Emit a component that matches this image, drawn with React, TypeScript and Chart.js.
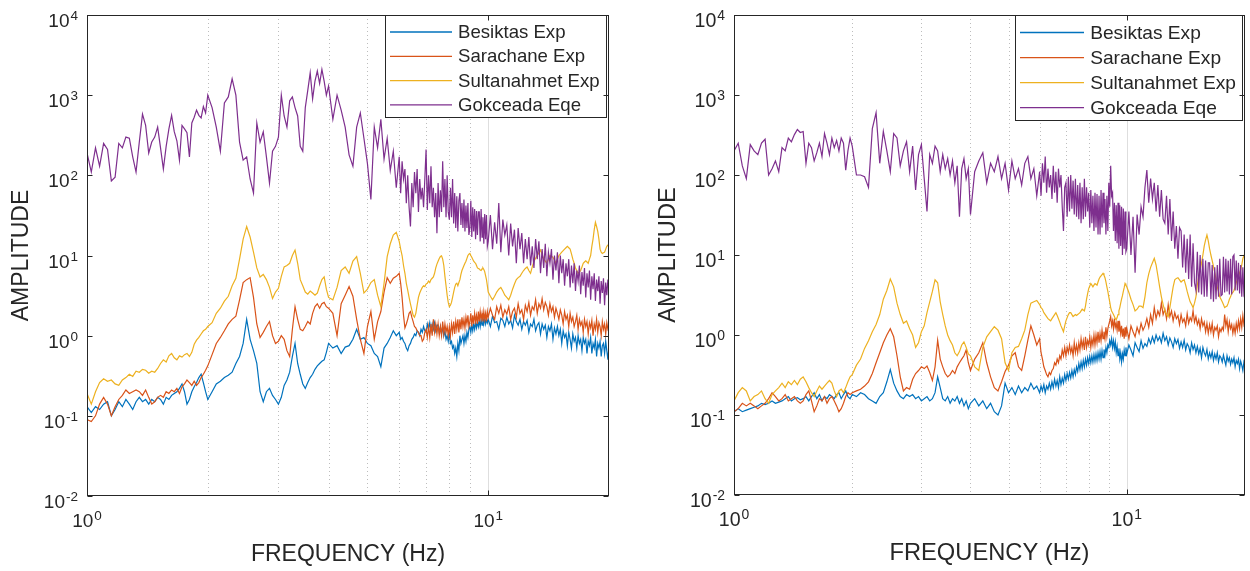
import React, { useEffect, useRef } from 'react';
import { Chart, registerables } from 'chart.js';

Chart.register(...registerables);

// ---------- data ----------
const FREQ_HZ = [
  1, 1.025, 1.05, 1.075, 1.1, 1.125, 1.15, 1.175, 1.2, 1.225,
  1.25, 1.275, 1.3, 1.325, 1.35, 1.375, 1.4, 1.425, 1.45, 1.475,
  1.5, 1.525, 1.55, 1.575, 1.6, 1.625, 1.65, 1.675, 1.7, 1.725,
  1.75, 1.775, 1.8, 1.825, 1.85, 1.875, 1.9, 1.925, 1.95, 1.975,
  2, 2.05, 2.1, 2.15, 2.2, 2.25, 2.3, 2.35, 2.4, 2.45,
  2.5, 2.55, 2.6, 2.65, 2.7, 2.75, 2.8, 2.85, 2.9, 2.95,
  3, 3.05, 3.1, 3.15, 3.2, 3.25, 3.3, 3.35, 3.4, 3.45,
  3.5, 3.55, 3.6, 3.65, 3.7, 3.75, 3.8, 3.85, 3.9, 3.95,
  4, 4.1, 4.2, 4.3, 4.4, 4.5, 4.6, 4.7, 4.8, 4.9,
  5, 5.1, 5.2, 5.3, 5.4, 5.5, 5.6, 5.7, 5.8, 5.9,
  6, 6.05, 6.1, 6.15, 6.2, 6.25, 6.3, 6.35, 6.4, 6.45,
  6.5, 6.55, 6.6, 6.65, 6.7, 6.75, 6.8, 6.85, 6.9, 6.95,
  7, 7.05, 7.1, 7.15, 7.2, 7.25, 7.3, 7.35, 7.4, 7.45,
  7.5, 7.55, 7.6, 7.65, 7.7, 7.75, 7.8, 7.85, 7.9, 7.95,
  8, 8.05, 8.1, 8.15, 8.2, 8.25, 8.3, 8.35, 8.4, 8.45,
  8.5, 8.55, 8.6, 8.65, 8.7, 8.75, 8.8, 8.85, 8.9, 8.95,
  9, 9.05, 9.1, 9.15, 9.2, 9.25, 9.3, 9.35, 9.4, 9.45,
  9.5, 9.55, 9.6, 9.65, 9.7, 9.75, 9.8, 9.85, 9.9, 9.95,
  10, 10.125, 10.25, 10.375, 10.5, 10.625, 10.75, 10.875, 11, 11.125,
  11.25, 11.375, 11.5, 11.625, 11.75, 11.875, 12, 12.125, 12.25, 12.375,
  12.5, 12.625, 12.75, 12.875, 13, 13.125, 13.25, 13.375, 13.5, 13.625,
  13.75, 13.875, 14, 14.125, 14.25, 14.375, 14.5, 14.625, 14.75, 14.875,
  15, 15.125, 15.25, 15.375, 15.5, 15.625, 15.75, 15.875, 16, 16.125,
  16.25, 16.375, 16.5, 16.625, 16.75, 16.875, 17, 17.125, 17.25, 17.375,
  17.5, 17.625, 17.75, 17.875, 18, 18.125, 18.25, 18.375, 18.5, 18.625,
  18.75, 18.875, 19, 19.125, 19.25, 19.375, 19.5, 19.625, 19.75, 19.875,
  20,
];

// Left panel
const LEFT_BESIKTAS = [
  0.13, 0.11, 0.13, 0.12, 0.14, 0.15, 0.1, 0.12, 0.15, 0.13,
  0.16, 0.14, 0.12, 0.15, 0.17, 0.15, 0.16, 0.14, 0.16, 0.15,
  0.17, 0.16, 0.14, 0.17, 0.16, 0.18, 0.19, 0.2, 0.22, 0.25,
  0.2, 0.14, 0.16, 0.2, 0.23, 0.26, 0.3, 0.33, 0.26, 0.2,
  0.16, 0.2, 0.25, 0.27, 0.3, 0.32, 0.35, 0.45, 0.55, 0.8,
  1.6, 0.9, 0.65, 0.45, 0.2, 0.15, 0.2, 0.22, 0.18, 0.16,
  0.14, 0.17, 0.24, 0.28, 0.35, 0.55, 0.8, 0.45, 0.33, 0.25,
  0.22, 0.26, 0.3, 0.33, 0.38, 0.42, 0.45, 0.48, 0.5, 0.62,
  0.8, 0.7, 0.75, 0.6, 0.72, 0.75, 0.9, 1.2, 0.9, 0.95,
  0.8, 0.75, 0.6, 0.55, 0.41, 0.7, 0.8, 0.95, 1.15, 1.0,
  1.1, 0.9, 0.95, 0.85, 0.8, 0.7, 0.65, 0.75, 0.8, 0.9,
  0.95, 1.05, 1.0, 1.15, 1.1, 1.0, 1.2, 1.1, 1.3, 1.15,
  1.1, 1.4, 1.2, 1.45, 1.15, 1.4, 1.2, 1.45, 1.15, 1.35,
  1.35, 1.1, 1.3, 1.05, 1.3, 1.0, 1.15, 0.9, 1.0, 0.85,
  1.1, 0.8, 0.85, 0.7, 0.75, 0.6, 0.7, 0.55, 0.8, 0.65,
  1.0, 0.8, 0.9, 1.0, 0.8, 1.0, 0.85, 1.1, 0.95, 1.2,
  1.3, 1.1, 1.35, 1.15, 1.4, 1.2, 1.45, 1.25, 1.5, 1.3,
  1.55, 1.3, 1.6, 1.35, 1.7, 1.4, 1.65, 1.4, 1.6, 1.45,
  1.6, 1.3, 1.75, 1.45, 1.5, 1.2, 1.65, 1.55, 1.3, 1.7,
  1.4, 1.55, 1.25, 1.8, 1.5, 1.35, 1.6, 1.2, 1.5, 1.35,
  1.55, 1.1, 1.4, 1.3, 1.6, 1.15, 1.35, 1.45, 1.05, 1.4,
  1.2, 1.35, 0.95, 1.3, 1.15, 1.4, 0.9, 1.25, 1.05, 1.3,
  1.0, 1.2, 0.8, 1.15, 0.95, 1.05, 0.75, 1.1, 0.9, 0.7,
  1.05, 0.85, 0.95, 0.7, 1.0, 0.8, 0.9, 0.65, 0.95, 0.8,
  0.9, 0.6, 0.85, 0.75, 0.95, 0.6, 0.8, 0.7, 0.9, 0.55,
  0.8, 0.7, 0.85, 0.55, 0.75, 0.8, 0.6, 0.85, 0.65, 0.5,
  0.75,
];
const LEFT_SARACHANE = [
  0.09, 0.085, 0.1, 0.14, 0.17, 0.14, 0.1, 0.13, 0.16, 0.18,
  0.21, 0.19, 0.2, 0.21, 0.2, 0.18, 0.21, 0.17, 0.14, 0.15,
  0.17, 0.18, 0.17, 0.2, 0.19, 0.21, 0.2, 0.22, 0.19, 0.23,
  0.25, 0.28, 0.26, 0.24, 0.27, 0.24, 0.26, 0.3, 0.33, 0.37,
  0.42, 0.58, 0.8, 0.95, 1.15, 1.4, 1.6, 1.75, 2.8, 4.6,
  5.0, 5.3, 3.0, 1.4, 0.95, 1.1, 1.3, 1.5, 1.0, 0.8,
  0.85, 1.0, 0.9, 0.65, 0.55, 1.2, 2.3, 1.6, 1.2, 1.15,
  1.3, 1.5, 1.4, 1.9, 2.3, 2.5, 2.2, 2.5, 2.6, 2.3,
  2.2, 1.9, 1.0, 2.5, 3.2, 4.1, 3.1, 1.6, 0.9, 0.6,
  1.3, 2.0, 0.9, 1.5, 2.0, 3.5, 5.3, 4.5, 5.2, 5.5,
  6.0, 4.5, 3.0, 1.8, 1.25, 1.4, 1.6, 1.9, 2.0, 1.7,
  1.5, 1.3, 1.25, 1.15, 1.1, 1.0, 1.0, 0.85, 0.9, 1.1,
  1.2, 0.95, 1.3, 0.95, 1.4, 1.0, 1.6, 1.1, 1.4, 1.05,
  1.4, 1.0, 1.3, 1.0, 1.5, 1.05, 1.4, 1.1, 1.3, 1.0,
  1.3, 1.0, 1.4, 1.1, 1.5, 1.05, 1.5, 1.2, 1.6, 1.1,
  1.6, 1.2, 1.7, 1.3, 1.6, 1.25, 1.7, 1.4, 1.8, 1.3,
  1.5, 1.9, 1.3, 1.8, 1.4, 1.9, 1.5, 1.8, 1.4, 2.0,
  1.5, 2.0, 1.6, 1.9, 1.5, 2.0, 1.6, 1.9, 1.5, 2.0,
  1.7, 2.2, 1.8, 1.6, 2.3, 1.9, 2.4, 1.7, 2.1, 1.85,
  2.3, 1.6, 2.0, 2.2, 1.7, 2.5, 1.9, 2.1, 1.6, 2.4,
  2.0, 2.6, 1.8, 2.3, 2.1, 2.8, 1.9, 2.5, 2.2, 2.9,
  2.1, 2.6, 2.3, 1.8, 2.5, 2.0, 2.3, 1.7, 2.2, 1.9,
  1.6, 2.1, 1.8, 1.4, 2.0, 1.6, 1.8, 1.3, 1.9, 1.5,
  1.7, 1.3, 1.5, 1.8, 1.2, 1.6, 1.35, 1.5, 1.1, 1.6,
  1.3, 1.5, 1.05, 1.45, 1.25, 1.55, 1.0, 1.4, 1.2, 1.6,
  1.1, 1.45, 1.3, 1.0, 1.5, 1.2, 1.4, 1.05, 1.45, 1.2,
  1.3,
];
const LEFT_SULTANAHMET = [
  0.19, 0.14, 0.2, 0.26, 0.29, 0.27, 0.28, 0.25, 0.24, 0.28,
  0.3, 0.33, 0.31, 0.36, 0.35, 0.38, 0.37, 0.34, 0.36, 0.35,
  0.39, 0.45, 0.5, 0.47, 0.56, 0.6, 0.53, 0.5, 0.56, 0.54,
  0.58, 0.6, 0.55, 0.62, 0.78, 0.88, 0.95, 1.05, 1.15, 1.2,
  1.3, 1.45, 1.9, 2.2, 2.7, 3.1, 4.2, 5.2, 9, 16,
  23, 17, 11, 7, 5.4, 5.8, 5, 4, 2.9, 3.5,
  3.9, 5.5, 7.2, 7.5, 8, 10, 11.7, 8, 5, 4.2,
  3.5, 3.3, 3.6, 3.4, 3.2, 3.4, 4.2, 5, 5.4, 3.8,
  3.0, 2.8, 4, 6.5, 7.2, 6, 8.5, 9.7, 6, 3.4,
  3.8, 4.6, 5, 3.2, 2.3, 4.5, 9.7, 14, 18, 19.5,
  15, 12, 10, 7.5, 6, 4.5, 3.7, 3, 2.5, 2.1,
  1.8, 1.7, 1.9, 2.4, 3.0, 3.4, 3.7, 4.0, 4.2, 4.1,
  4.4, 4.5, 4.8, 4.6, 5, 5.2, 5.4, 6, 7, 7.8,
  8.5, 9.2, 9.7, 9.9, 9, 7.5, 5.5, 4.2, 3.2, 2.6,
  2.3, 2.4, 2.6, 3.0, 3.5, 4.0, 4.4, 4.5, 4.2, 4.6,
  5, 5.8, 6.5, 7, 7.5, 8, 8.5, 9.2, 10, 10.4,
  10.6, 10, 9.5, 9, 8.5, 8.2, 8, 7.5, 7, 6.9,
  6.8, 6.6, 6.5, 6.8, 7, 6.7, 6.3, 5.6, 5, 4.2,
  3.5, 3.1, 2.8, 3.1, 3.5, 3.8, 4, 3.6, 3.2, 3.0,
  2.8, 3.2, 3.8, 4.4, 5, 5.3, 5.5, 6, 6.5, 6.9,
  7.2, 6.5, 6, 7.2, 8.5, 9.2, 10, 10.8, 11.7, 10.3,
  9, 8.5, 8, 9, 10, 9.8, 9.5, 8.7, 8, 9,
  10, 10.5, 11, 11.5, 12, 12.5, 13, 12.5, 12, 10.5,
  9, 8, 7, 6.5, 6, 6.2, 6.5, 7.2, 8, 8.3,
  8.6, 8.3, 8, 9, 10, 13, 16, 21, 26, 23,
  20, 16, 12, 11, 10.6, 10.8, 11, 12, 13, 13.5,
  14,
];
const LEFT_GOKCEADA = [
  190, 110, 220, 130, 250, 210, 85, 95, 250, 220,
  300, 290, 170, 110, 260, 580, 420, 190, 260, 300,
  400, 220, 120, 230, 380, 560, 350, 270, 155, 420,
  380, 340, 170, 450, 530, 650, 560, 520, 720, 600,
  1000, 700, 400, 200, 800, 950, 1600, 1000, 260, 155,
  170, 90, 60, 450, 260, 350, 170, 80, 200, 230,
  300, 1000, 550, 400, 850, 950, 700, 550, 230, 200,
  700, 1150, 1900, 900, 1500, 2000, 1400, 2100, 1500, 1000,
  1300, 500, 1000, 650, 400, 180, 130, 400, 600, 290,
  140, 50, 400, 220, 500, 160, 290, 115, 200, 70,
  170, 60, 150, 90, 120, 45, 100, 40, 23, 80,
  40, 110, 60, 120, 35, 90, 50, 70, 40, 90,
  210, 37, 100, 45, 130, 40, 70, 30, 60, 19,
  80, 30, 65, 35, 150, 40, 90, 30, 100, 35,
  28, 70, 30, 90, 25, 60, 22, 55, 20, 48,
  60, 24, 45, 22, 50, 20, 42, 22, 45, 18,
  22, 48, 17, 40, 20, 38, 16, 36, 18, 35,
  35, 15, 38, 17, 30, 14, 33, 16, 32, 13,
  15, 32, 12, 26, 14, 45, 11, 28, 18, 24,
  10, 25, 13, 21, 8, 22, 12, 19, 8, 16,
  9, 17, 7.5, 13, 7, 16, 9, 15, 6, 12,
  7, 14, 5.5, 11, 8, 12, 5, 10, 6.5, 11,
  4.5, 10, 6, 9, 4.2, 8, 5.5, 9, 4, 7.5,
  4.5, 8, 3.6, 6.5, 4.8, 7.5, 3.3, 6.2, 4.2, 7,
  3, 6, 4, 6.5, 2.8, 5.5, 3.8, 6, 2.7, 5,
  3.6, 5.5, 2.5, 4.8, 3.4, 5.2, 2.4, 4.6, 3.2, 5,
  3.5,
];

// Right panel
const RIGHT_BESIKTAS = [
  0.11, 0.12, 0.11, 0.115, 0.12, 0.125, 0.13, 0.14, 0.135, 0.14,
  0.15, 0.14, 0.145, 0.15, 0.16, 0.17, 0.15, 0.16, 0.165, 0.155,
  0.16, 0.17, 0.15, 0.17, 0.19, 0.16, 0.18, 0.15, 0.17, 0.16,
  0.18, 0.17, 0.16, 0.18, 0.19, 0.16, 0.18, 0.2, 0.17, 0.16,
  0.18, 0.17, 0.19, 0.18, 0.16, 0.15, 0.14, 0.17, 0.19, 0.26,
  0.37, 0.25, 0.2, 0.17, 0.16, 0.18, 0.17, 0.18, 0.16, 0.17,
  0.15, 0.16, 0.17, 0.15, 0.16, 0.19, 0.3, 0.22, 0.16, 0.15,
  0.17, 0.14, 0.16, 0.15, 0.17, 0.14, 0.16, 0.13, 0.15, 0.12,
  0.14, 0.16, 0.13, 0.15, 0.12, 0.14, 0.11, 0.1, 0.13, 0.25,
  0.19, 0.22, 0.18, 0.23, 0.19, 0.22, 0.2, 0.25, 0.21, 0.23,
  0.19, 0.23, 0.2, 0.24, 0.19, 0.23, 0.21, 0.25, 0.21, 0.26,
  0.22, 0.28, 0.23, 0.27, 0.22, 0.3, 0.24, 0.29, 0.25, 0.32,
  0.27, 0.33, 0.28, 0.34, 0.29, 0.36, 0.3, 0.37, 0.32, 0.4,
  0.35, 0.44, 0.37, 0.46, 0.38, 0.48, 0.4, 0.5, 0.42, 0.52,
  0.44, 0.54, 0.45, 0.55, 0.46, 0.57, 0.47, 0.58, 0.48, 0.6,
  0.5, 0.62, 0.5, 0.64, 0.52, 0.66, 0.56, 0.7, 0.6, 0.75,
  0.7, 0.85, 0.75, 0.9, 0.7, 0.85, 0.68, 0.82, 0.6, 0.72,
  0.55, 0.68, 0.5, 0.6, 0.46, 0.58, 0.5, 0.65, 0.55, 0.7,
  0.58, 0.75, 0.65, 0.55, 0.8, 0.7, 0.62, 0.85, 0.68, 0.78,
  0.72, 0.9, 0.78, 0.95, 0.8, 1.0, 0.85, 0.95, 0.8, 1.05,
  0.85, 0.95, 0.75, 0.92, 0.82, 0.7, 0.9, 0.78, 0.88, 0.68,
  0.82, 0.7, 0.86, 0.65, 0.78, 0.72, 0.6, 0.8, 0.66, 0.75,
  0.6, 0.72, 0.58, 0.68, 0.52, 0.7, 0.6, 0.55, 0.66, 0.5,
  0.6, 0.52, 0.62, 0.48, 0.58, 0.5, 0.6, 0.46, 0.55, 0.52,
  0.46, 0.56, 0.48, 0.42, 0.55, 0.47, 0.52, 0.43, 0.5, 0.45,
  0.52, 0.4, 0.48, 0.44, 0.5, 0.38, 0.47, 0.42, 0.36, 0.46,
  0.42,
];
const RIGHT_SARACHANE = [
  0.11, 0.12, 0.14, 0.13, 0.14, 0.13, 0.12, 0.13, 0.14, 0.16,
  0.19, 0.17, 0.15, 0.16, 0.18, 0.15, 0.16, 0.17, 0.15, 0.14,
  0.15, 0.18, 0.2, 0.15, 0.11, 0.13, 0.16, 0.15, 0.17, 0.14,
  0.16, 0.17, 0.15, 0.13, 0.11, 0.12, 0.14, 0.17, 0.19, 0.18,
  0.19, 0.2, 0.21, 0.23, 0.26, 0.33, 0.45, 0.6, 0.8, 1.0,
  1.2, 0.95, 0.55, 0.3, 0.2, 0.22, 0.21, 0.28, 0.33, 0.36,
  0.4, 0.38, 0.41, 0.34, 0.27, 0.4, 0.86, 0.5, 0.4, 0.33,
  0.3, 0.32, 0.36, 0.33, 0.4, 0.45, 0.5, 0.55, 0.65, 0.45,
  0.36, 0.5, 0.6, 0.8, 0.45, 0.3, 0.22, 0.2, 0.26, 0.35,
  0.42, 0.55, 0.6, 0.4, 0.36, 0.55, 0.86, 1.3, 1.0, 0.75,
  0.9, 0.6, 0.5, 0.4, 0.36, 0.32, 0.3, 0.34, 0.32, 0.36,
  0.38, 0.45, 0.42, 0.5, 0.45, 0.55, 0.5, 0.65, 0.55, 0.7,
  0.55, 0.7, 0.6, 0.75, 0.6, 0.7, 0.55, 0.8, 0.6, 0.75,
  0.6, 0.8, 0.65, 0.9, 0.7, 0.85, 0.65, 0.95, 0.7, 0.85,
  0.75, 0.95, 0.7, 0.9, 0.75, 1.0, 0.75, 1.0, 0.8, 1.1,
  0.8, 1.05, 0.85, 1.15, 0.9, 1.1, 0.9, 1.25, 0.95, 1.2,
  1.35, 1.5, 1.7, 1.3, 1.5, 1.2, 1.6, 1.25, 1.4, 1.15,
  1.5, 1.1, 1.35, 1.05, 1.3, 0.95, 1.2, 0.9, 1.25, 0.95,
  1.2, 0.9, 1.3, 1.1, 0.95, 1.25, 1.05, 1.4, 1.15, 1.3,
  1.6, 1.25, 1.8, 1.4, 2.2, 1.6, 2.0, 1.75, 2.5, 1.8,
  2.1, 1.6, 2.4, 1.7, 2.0, 1.5, 1.9, 1.6, 1.75, 1.35,
  1.8, 1.45, 1.6, 1.3, 1.85, 1.4, 1.65, 1.5, 2.0, 1.45,
  1.7, 1.35, 1.55, 1.2, 1.6, 1.3, 1.45, 1.1, 1.4, 1.05,
  1.35, 1.1, 1.4, 1.0, 1.25, 1.15, 1.3, 0.95, 1.2, 1.1,
  1.25, 1.15, 1.8, 1.3, 1.55, 1.1, 1.45, 1.2, 1.35, 1.05,
  1.3, 1.05, 1.4, 1.15, 1.5, 1.2, 1.6, 1.25, 1.75, 1.35,
  1.5,
];
const RIGHT_SULTANAHMET = [
  0.15, 0.19, 0.22, 0.2, 0.15, 0.17, 0.18, 0.2, 0.16, 0.14,
  0.18, 0.2, 0.22, 0.25, 0.22, 0.26, 0.24, 0.27, 0.24, 0.28,
  0.3, 0.26, 0.22, 0.19, 0.17, 0.2, 0.23, 0.21, 0.23, 0.25,
  0.27, 0.25, 0.2, 0.17, 0.2, 0.21, 0.19, 0.22, 0.26, 0.3,
  0.32, 0.42, 0.5, 0.68, 0.85, 1.1, 1.35, 1.8, 2.8, 3.6,
  5.0, 4.0, 2.5, 1.8, 1.4, 1.5, 1.2, 1.0, 0.7, 0.8,
  1.1, 1.3, 1.9, 2.6, 3.5, 4.9, 4.5, 2.6, 1.8, 1.3,
  1.0, 0.85, 0.75, 0.6, 0.55, 0.62, 0.75, 0.82, 0.7, 0.58,
  0.55, 0.4, 0.36, 0.7, 0.95, 1.1, 1.27, 1.15, 0.9, 0.45,
  0.36, 0.6, 0.7, 0.72, 0.9, 1.15, 1.8, 2.5, 2.6, 2.7,
  2.4, 2.2, 2.1, 1.9, 1.8, 1.7, 1.6, 1.55, 1.5, 1.6,
  1.7, 1.8, 1.9, 1.75, 1.6, 1.45, 1.3, 1.2, 1.1, 1.3,
  1.5, 1.65, 1.8, 1.9, 1.9, 1.8, 1.7, 1.75, 1.8, 1.75,
  1.8, 1.85, 1.9, 2.0, 2.1, 2.05, 2.0, 2.3, 2.8, 3.3,
  3.8, 4.1, 4.4, 4.2, 4.0, 4.2, 4.4, 4.3, 4.2, 4.6,
  5.0, 5.3, 5.5, 5.7, 5.9, 5.6, 5.2, 4.6, 4.0, 3.5,
  3.0, 2.6, 2.2, 2.0, 1.9, 1.8, 1.7, 1.6, 1.55, 1.65,
  1.8, 2.0, 2.2, 2.5, 2.8, 3.1, 3.5, 3.9, 4.4, 4.2,
  4.0, 3.4, 2.8, 2.4, 2.0, 2.1, 2.3, 2.3, 2.2, 3.0,
  4.5, 5.8, 7, 8, 9.1, 7.5, 5.5, 4.0, 3.0, 2.4,
  2.0, 1.8, 1.7, 2.2, 3.0, 4.0, 4.9, 5.1, 5.2, 4.9,
  4.6, 4.8, 4.9, 4.2, 3.5, 3.0, 2.6, 2.4, 2.2, 2.5,
  3.0, 4.2, 5.5, 6.5, 7.9, 10, 13, 15.5, 17.8, 15,
  12, 10, 8.5, 7.2, 6, 5, 4, 3.5, 3, 2.8,
  2.6, 2.4, 2.2, 2.25, 2.3, 2.5, 2.8, 3.0, 3.3, 3.4,
  3.6, 4.0, 4.5, 5.0, 5.5, 6.0, 6.5, 7.5, 9, 9.8,
  10.5,
];
const RIGHT_GOKCEADA = [
  200, 250, 130, 90, 240, 200, 180, 250, 280, 100,
  120, 150, 110, 220, 200, 290, 260, 320, 370, 340,
  350, 140, 250, 220, 150, 190, 250, 170, 330, 250,
  180, 290, 220, 270, 200, 290, 250, 115, 200, 290,
  230, 100, 100, 95, 70, 380, 600, 140, 350, 200,
  110, 330, 290, 130, 200, 260, 110, 230, 65, 180,
  240, 90, 35, 180, 140, 230, 200, 110, 180, 120,
  160, 100, 150, 80, 130, 30, 120, 160, 90, 120,
  32, 110, 150, 190, 80, 140, 110, 170, 90, 140,
  65, 150, 90, 120, 75, 140, 170, 90, 120, 55,
  110, 55, 140, 80, 170, 60, 120, 70, 100, 50,
  130, 60, 110, 45, 120, 70, 100, 40, 20, 70,
  80, 30, 95, 35, 100, 38, 85, 32, 90, 30,
  75, 28, 80, 25, 70, 28, 90, 30, 70, 35,
  60, 22, 65, 25, 55, 20, 60, 22, 58, 18,
  55, 18, 65, 22, 60, 25, 50, 18, 55, 20,
  80, 40, 130, 55, 60, 20, 45, 15, 42, 14,
  45, 12, 42, 13, 40, 10, 38, 12, 35, 11,
  12, 35, 10, 30, 6, 32, 18, 40, 30, 70,
  115, 45, 90, 50, 80, 35, 75, 30, 65, 28,
  25, 55, 18, 50, 15, 35, 12, 23, 9, 22,
  20, 7, 18, 6, 16, 5, 18, 4, 14, 4.5,
  3.6, 11, 3.4, 10, 3.2, 9, 3.0, 8.5, 3, 8,
  8, 2.8, 7.5, 2.6, 7, 2.8, 7.5, 3, 9, 3.1,
  3.2, 9.5, 3.4, 9, 3.5, 8.5, 3.2, 9, 3.2, 9.5,
  10, 3.6, 8.5, 3.6, 8, 3.3, 7.5, 3, 7, 3.2,
  3.5,
];

const SERIES_NAMES = ['Besiktas Exp', 'Sarachane Exp', 'Sultanahmet Exp', 'Gokceada Eqe'];
const SERIES_COLORS = ['#0072BD', '#D95319', '#EDB120', '#7E2F8E'];

const Y_TICK_VALUES = [0.01, 0.1, 1, 10, 100, 1000, 10000];
const Y_TICK_EXPONENTS = ['-2', '-1', '0', '1', '2', '3', '4'];
const X_TICK_VALUES = [1, 10];
const X_TICK_EXPONENTS = ['0', '1'];
const X_MINOR_GRID = [2, 3, 4, 5, 6, 7, 8, 9];
const X_MAJOR_GRID = [10];
const X_TITLE = 'FREQUENCY (Hz)';
const Y_TITLE = 'AMPLITUDE';

// ---------- drawing helpers ----------
const FONT = '"Liberation Sans", Arial, Helvetica, sans-serif';
const TEXT_COLOR = '#262626';

function drawPower(ctx: CanvasRenderingContext2D, exp: string, x: number, baseY: number, align: 'right' | 'center', s: number) {
  ctx.textAlign = 'left';
  ctx.textBaseline = 'alphabetic';
  ctx.font = `${19 * s}px ${FONT}`;
  const wb = ctx.measureText('10').width;
  ctx.font = `${13.5 * s}px ${FONT}`;
  const we = ctx.measureText(exp).width;
  const total = wb + 1 + we;
  const x0 = align === 'right' ? x - total : x - total / 2;
  ctx.fillStyle = TEXT_COLOR;
  ctx.font = `${19 * s}px ${FONT}`;
  ctx.fillText('10', x0, baseY);
  ctx.font = `${13.5 * s}px ${FONT}`;
  ctx.fillText(exp, x0 + wb + 1, baseY - 7);
}

const matlabAxes = {
  id: 'matlabAxes',
  beforeDatasetsDraw(chart: any) {
    const { ctx, chartArea: a, scales } = chart;
    const x = scales.x;
    ctx.save();
    ctx.lineWidth = 1;
    ctx.strokeStyle = '#bdbdbd';
    ctx.setLineDash([1, 3]);
    X_MINOR_GRID.forEach((v) => {
      const px = Math.round(x.getPixelForValue(v)) + 0.5;
      ctx.beginPath();
      ctx.moveTo(px, a.top);
      ctx.lineTo(px, a.bottom);
      ctx.stroke();
    });
    ctx.setLineDash([]);
    ctx.strokeStyle = '#dedede';
    X_MAJOR_GRID.forEach((v) => {
      const px = Math.round(x.getPixelForValue(v)) + 0.5;
      ctx.beginPath();
      ctx.moveTo(px, a.top);
      ctx.lineTo(px, a.bottom);
      ctx.stroke();
    });
    ctx.restore();
  },
  afterDatasetsDraw(chart: any, _args: any, opts: any) {
    const { ctx, chartArea: a, scales } = chart;
    const { x, y } = scales;
    const s = opts.scale || 1;
    ctx.save();

    // legend
    ctx.font = `${18.6 * s}px ${FONT}`;
    const maxW = Math.max(...SERIES_NAMES.map((n) => ctx.measureText(n).width));
    const textOff = 73 * s;
    const lw = Math.round(textOff + maxW + 7);
    const lh = Math.round(103 * s);
    const lx = Math.round(a.right - 2 - lw);
    const ly = Math.round(a.top);
    ctx.fillStyle = '#ffffff';
    ctx.fillRect(lx, ly, lw, lh);
    ctx.strokeStyle = TEXT_COLOR;
    ctx.lineWidth = 1;
    ctx.strokeRect(lx + 0.5, ly + 0.5, lw - 1, lh - 1);
    SERIES_NAMES.forEach((name, i) => {
      const cy = ly + 17 * s + i * 24.3 * s;
      ctx.strokeStyle = SERIES_COLORS[i];
      ctx.lineWidth = 1.3;
      ctx.beginPath();
      ctx.moveTo(lx + 5, cy);
      ctx.lineTo(lx + 67 * s, cy);
      ctx.stroke();
      ctx.fillStyle = TEXT_COLOR;
      ctx.textAlign = 'left';
      ctx.textBaseline = 'middle';
      ctx.fillText(name, lx + textOff, cy + 1);
    });

    // axes box
    ctx.strokeStyle = TEXT_COLOR;
    ctx.lineWidth = 1;
    const L = Math.round(a.left) + 0.5;
    const R = Math.round(a.right) - 0.5;
    const T = Math.round(a.top) + 0.5;
    const B = Math.round(a.bottom) - 0.5;
    ctx.strokeRect(L, T, R - L, B - T);

    // tick marks (inside)
    ctx.beginPath();
    Y_TICK_VALUES.forEach((v) => {
      const py = Math.round(y.getPixelForValue(v)) + 0.5;
      ctx.moveTo(L, py);
      ctx.lineTo(L + 5, py);
      ctx.moveTo(R, py);
      ctx.lineTo(R - 5, py);
    });
    X_TICK_VALUES.forEach((v) => {
      const px = Math.round(x.getPixelForValue(v)) + 0.5;
      ctx.moveTo(px, B);
      ctx.lineTo(px, B - 5);
      ctx.moveTo(px, T);
      ctx.lineTo(px, T + 5);
    });
    ctx.stroke();

    // tick labels
    Y_TICK_VALUES.forEach((v, i) => {
      const py = y.getPixelForValue(v);
      drawPower(ctx, Y_TICK_EXPONENTS[i], a.left - 9, py + 12, 'right', s);
    });
    X_TICK_VALUES.forEach((v, i) => {
      const px = x.getPixelForValue(v);
      drawPower(ctx, X_TICK_EXPONENTS[i], px, a.bottom + 31, 'center', s);
    });

    // axis titles
    ctx.fillStyle = TEXT_COLOR;
    ctx.font = `${23 * s}px ${FONT}`;
    ctx.textAlign = 'center';
    ctx.textBaseline = 'alphabetic';
    ctx.fillText(X_TITLE, (a.left + a.right) / 2, a.bottom + 65);
    ctx.save();
    ctx.translate(a.left - 59, (a.top + a.bottom) / 2);
    ctx.rotate(-Math.PI / 2);
    ctx.fillText(Y_TITLE, 0, 0);
    ctx.restore();

    ctx.restore();
  },
};

type PanelProps = {
  series: number[][];
  left: number;
  padding: { left: number; right: number; top: number; bottom: number };
  scale: number;
};

function Panel({ series, left, padding, scale }: PanelProps) {
  const ref = useRef<HTMLCanvasElement>(null);
  useEffect(() => {
    const canvas = ref.current;
    if (!canvas) return;
    const datasets = series.map((vals, i) => ({
      label: SERIES_NAMES[i],
      data: FREQ_HZ.map((f, j) => ({ x: f, y: vals[j] })),
      borderColor: SERIES_COLORS[i],
      backgroundColor: SERIES_COLORS[i],
      borderWidth: 1.2,
      pointRadius: 0,
      tension: 0,
      fill: false,
      order: 3 - i,
    }));
    const chart = new Chart(canvas, {
      type: 'line',
      data: { datasets },
      options: {
        animation: false,
        responsive: false,
        events: [],
        layout: { padding },
        plugins: {
          legend: { display: false },
          tooltip: { enabled: false },
          matlabAxes: { scale },
        } as any,
        scales: {
          x: { type: 'logarithmic', min: 1, max: 20, display: false },
          y: { type: 'logarithmic', min: 0.01, max: 10000, display: false },
        },
      },
      plugins: [matlabAxes],
    });
    return () => chart.destroy();
  }, []);
  return (
    <canvas
      ref={ref}
      width={625}
      height={571}
      style={{ position: 'absolute', left, top: 0, width: 625, height: 571 }}
    />
  );
}

export default function App() {
  return (
    <div style={{ position: 'absolute', left: 0, top: 0, width: 1250, height: 571, background: '#fff' }}>
      <Panel
        series={[LEFT_BESIKTAS, LEFT_SARACHANE, LEFT_SULTANAHMET, LEFT_GOKCEADA]}
        left={0}
        padding={{ left: 87, right: 16, top: 15, bottom: 75 }}
        scale={1}
      />
      <Panel
        series={[RIGHT_BESIKTAS, RIGHT_SARACHANE, RIGHT_SULTANAHMET, RIGHT_GOKCEADA]}
        left={625}
        padding={{ left: 109, right: 5, top: 15, bottom: 76 }}
        scale={1.03}
      />
    </div>
  );
}
